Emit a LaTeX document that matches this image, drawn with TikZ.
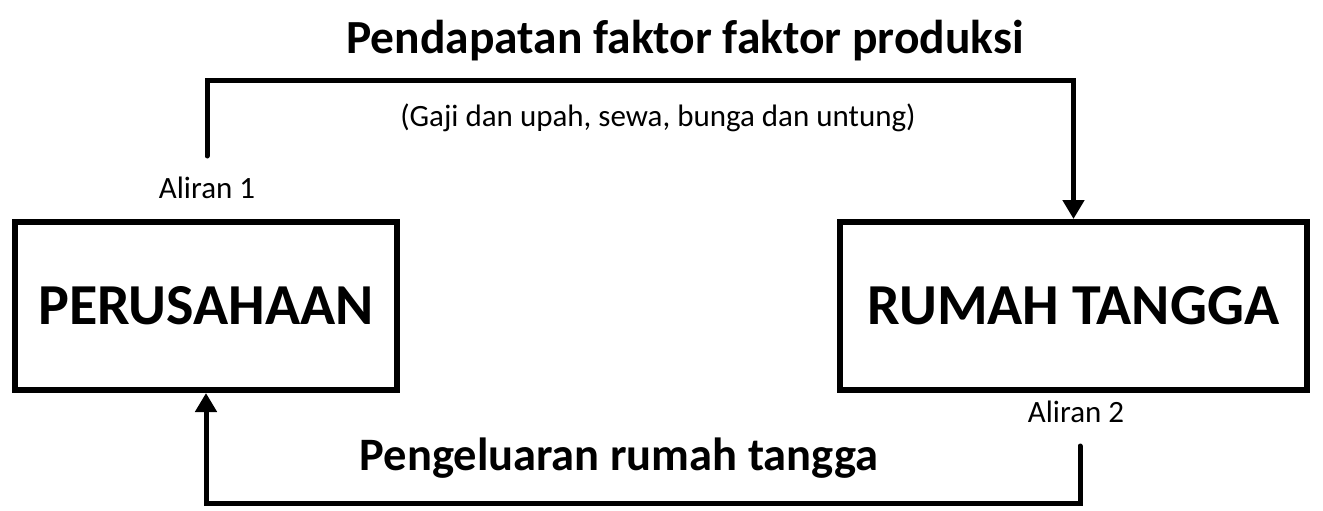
\documentclass[tikz,border=0pt]{standalone}
\usepackage{fontspec}
\setmainfont{Carlito}
\usepackage{tikz}
\usetikzlibrary{arrows.meta}

\begin{document}
\begin{tikzpicture}[x=1pt, y=-1pt, >={Triangle[length=19pt,width=21pt]},
    box/.style={draw, line width=6pt, minimum height=168pt, inner sep=0pt,
                font=\bfseries\fontsize{58}{60}\selectfont},
    flow/.style={line width=5pt, line cap=round, line join=miter},
    title/.style={anchor=base, inner sep=0pt, font=\bfseries\fontsize{47.5}{50}\selectfont},
    note/.style={anchor=base, inner sep=0pt, font=\fontsize{31}{34}\selectfont}]
    \useasboundingbox (0,0) rectangle (1323,511);

    % Nodes {firm, hh}
    \node [box, minimum width=382pt]  (firm) at (206,306)    {PERUSAHAAN};
    \node [box, minimum width=467pt]  (hh)   at (1073.5,306) {RUMAH TANGGA};

    % Labels
    \node [title]  (income) at (685,54)  {Pendapatan faktor faktor produksi};
    \node [note]   (detail) at (658,126) {(Gaji dan upah, sewa, bunga dan untung)};
    \node [note]   (flow1)  at (207,198) {Aliran 1};
    \node [note]   (flow2)  at (1076,422) {Aliran 2};
    \node [title, font=\bfseries\fontsize{46.5}{50}\selectfont]
                   (spend)  at (619,470) {Pengeluaran rumah tangga};

    % Paths
    \coordinate (start1) at (207,156);
    \coordinate (start2) at (1080,446);
    \draw [flow, ->] (start1) -- (207,81)  -| (hh.north);
    \draw [flow, ->] (start2) -- (1080,503) -| (firm.south);

\end{tikzpicture}
\end{document}
